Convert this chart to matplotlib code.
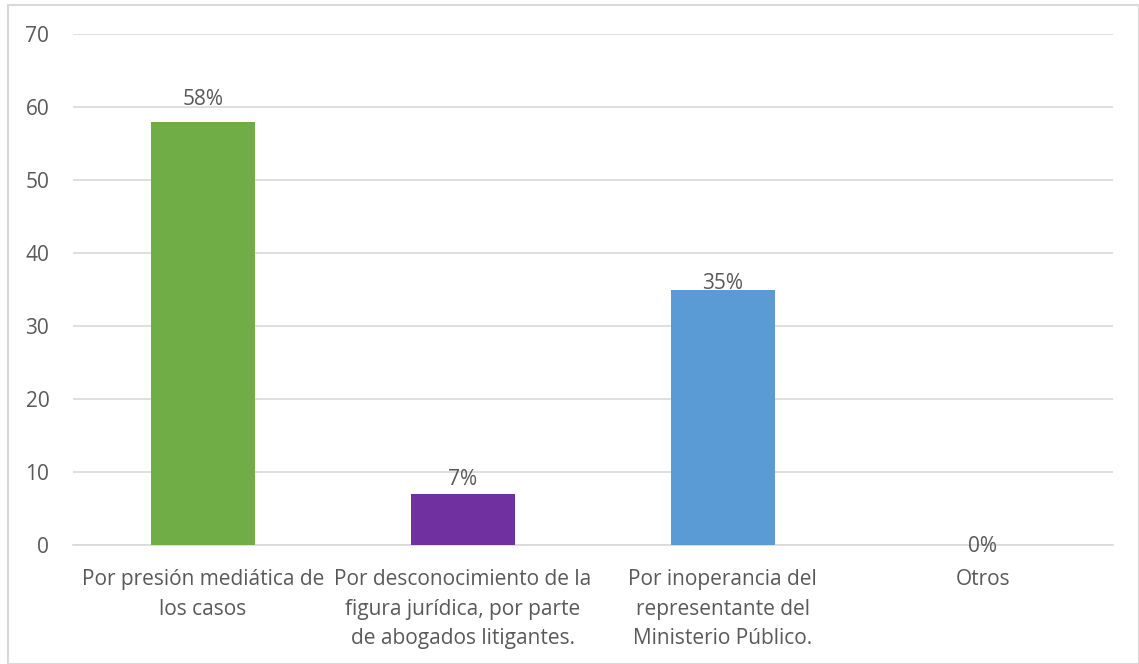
import matplotlib
matplotlib.use('Agg')
import matplotlib.pyplot as plt
from matplotlib.patches import Rectangle

# datos del gráfico
categorias = [
    'Por presión mediática de\nlos casos',
    'Por desconocimiento de la\nfigura jurídica, por parte\nde abogados litigantes.',
    'Por inoperancia del\nrepresentante del\nMinisterio Público.',
    'Otros',
]
valores = [58, 7, 35, 0]
etiquetas = ['58%', '7%', '35%', '0%']
colores = ['#70AD47', '#7030A0', '#5B9BD5', '#A5A5A5']

plt.rcParams['font.family'] = ['Open Sans', 'DejaVu Sans']
gris = '#595959'
tam = 15

fig = plt.figure(figsize=(11.39, 6.64), dpi=100)
ax = fig.add_axes([0.064, 0.179, 0.913, 0.770])

x = range(len(categorias))
ax.bar(x, valores, width=0.40, color=colores, zorder=3)

# separación (en puntos) de cada etiqueta sobre su barra, como en el original
separacion = [12, 6.5, 0.5, -5]
for xi, v, txt, dy in zip(x, valores, etiquetas, separacion):
    ax.annotate(txt, (xi, v), xytext=(0, dy), textcoords='offset points',
                ha='center', va='baseline', fontsize=tam, color=gris, zorder=4)

ax.set_xlim(-0.5, len(categorias) - 0.5)
ax.set_ylim(0, 70)
ax.set_yticks(range(0, 71, 10))
ax.yaxis.grid(True, color='#D9D9D9', linewidth=1.2, zorder=0)
ax.set_xticks(list(x))
ax.set_xticklabels(categorias, fontsize=tam, color=gris, linespacing=1.55)
ax.tick_params(axis='y', labelsize=tam, labelcolor=gris, length=0, pad=17)
ax.tick_params(axis='x', length=0, pad=17)
for lado in ['top', 'right', 'left']:
    ax.spines[lado].set_visible(False)
ax.spines['bottom'].set_color('#D9D9D9')
ax.spines['bottom'].set_linewidth(1.2)

# borde del gráfico
fig.patches.append(Rectangle((0.007, 0.0), 0.993, 0.993, transform=fig.transFigure,
                             fill=False, edgecolor='#D9D9D9', linewidth=1.5))

fig.savefig('out.png', dpi=100)
plt.close(fig)
